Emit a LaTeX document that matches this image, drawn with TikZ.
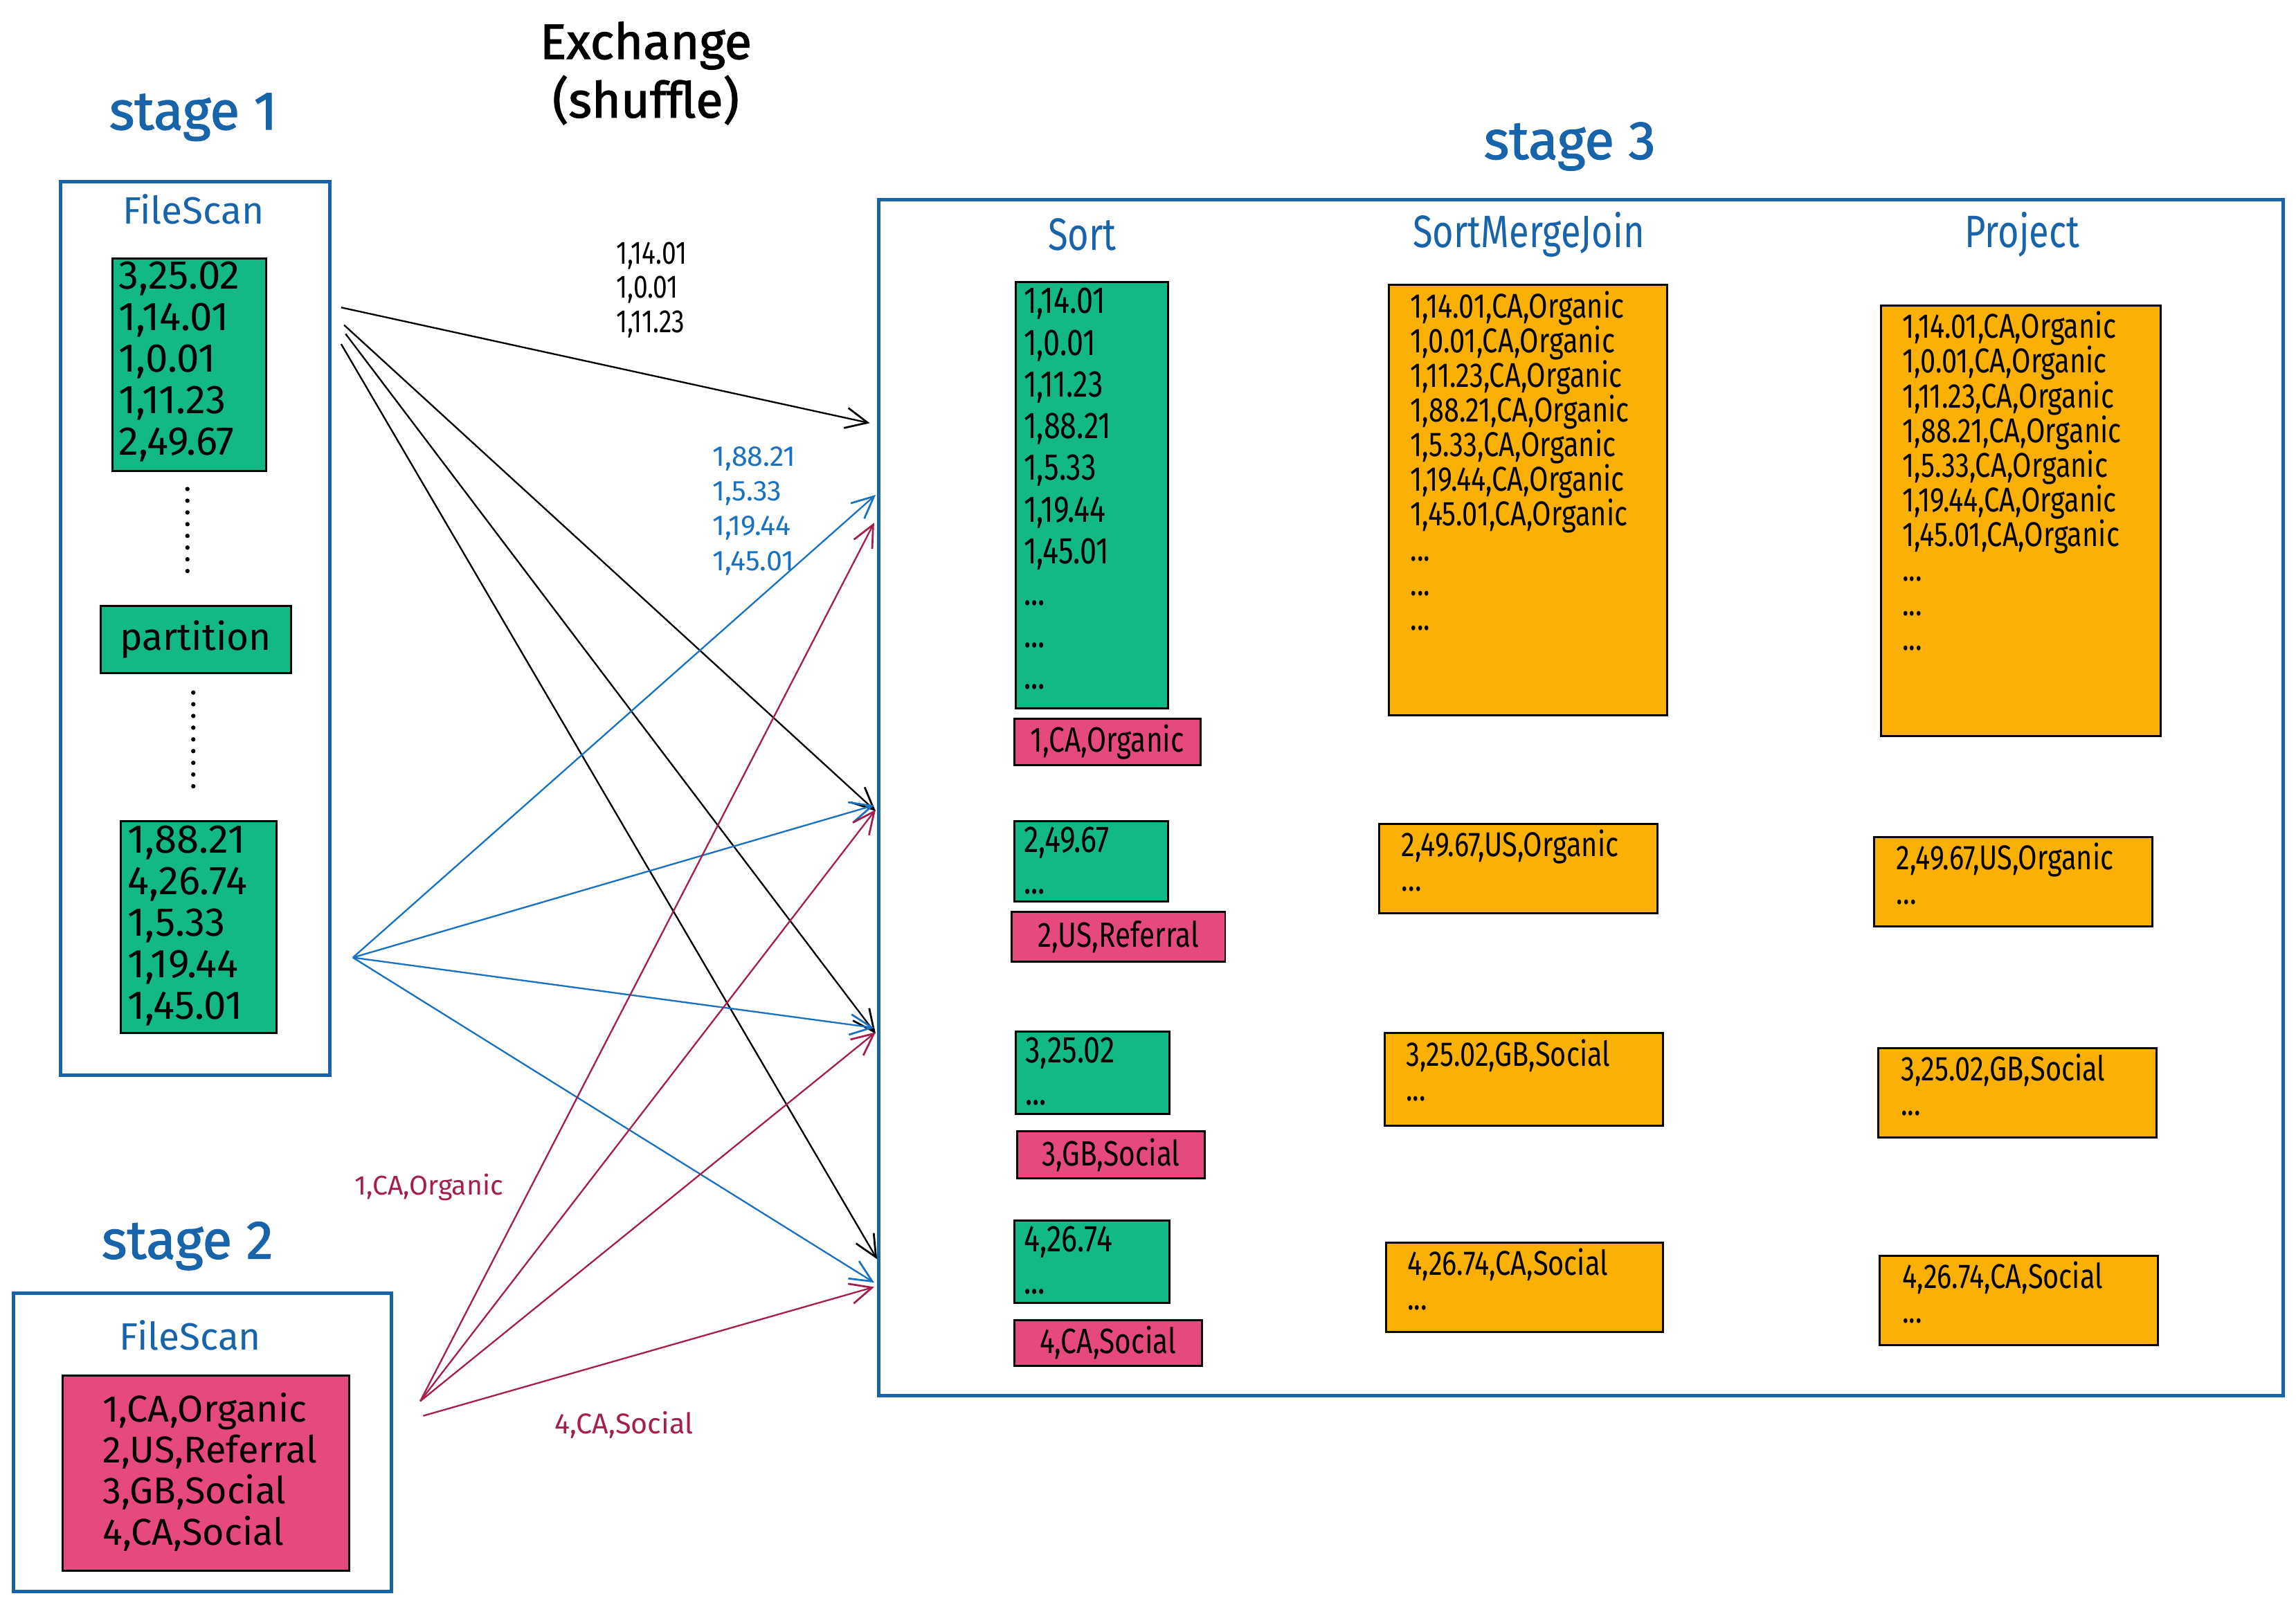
\documentclass[tikz,border=0pt]{standalone}
\usepackage{fontspec}
\setmainfont{Fira Sans}
\newfontfamily\condfont[FakeStretch=0.8]{Fira Sans}
\newfontfamily\titlefont[FakeBold=1.6]{Fira Sans}
\usetikzlibrary{arrows.meta}
\definecolor{exblue}{HTML}{1864AB}
\definecolor{exline}{HTML}{1971C2}
\definecolor{excrimson}{HTML}{A61E4D}
\definecolor{exgreen}{HTML}{12B886}
\definecolor{expink}{HTML}{E64980}
\definecolor{exorange}{HTML}{FAB005}
\tikzset{
  stagebox/.style={draw=exblue, line width=2.4pt, anchor=north west, inner sep=0pt},
  gbox/.style={draw=black, line width=1.4pt, fill=exgreen, anchor=north west, inner sep=0pt},
  pbox/.style={draw=black, line width=1.4pt, fill=expink, anchor=north west, inner sep=0pt},
  obox/.style={draw=black, line width=1.4pt, fill=exorange, anchor=north west, inner sep=0pt},
  title/.style={text=exblue, font=\titlefont\fontsize{37}{40}\selectfont},
  head/.style={text=exblue, font=\fontsize{26}{30}\selectfont},
  colhead/.style={text=exblue, font=\condfont\fontsize{31}{34}\selectfont},
  txtA/.style={inner sep=0pt, anchor=north west, align=left, font=\fontsize{27.5}{28.4}\selectfont},
  txtP/.style={inner sep=0pt, anchor=north west, align=left, font=\fontsize{25.5}{28}\selectfont},
  txtS/.style={inner sep=0pt, anchor=north west, align=left, font=\condfont\fontsize{25.5}{28.5}\selectfont},
  txtO/.style={inner sep=0pt, anchor=north west, align=left, font=\condfont\fontsize{23.5}{23.7}\selectfont},
  dotline/.style={line width=3pt, line cap=round, dash pattern=on 0pt off 8pt},
  arr/.style={line width=1.1pt, -{Straight Barb[length=15pt,width=14pt,line width=1.3pt]}},
}
\begin{document}
\begin{tikzpicture}[x=1pt,y=-1pt]
\useasboundingbox (0,0) rectangle (1568,1096);

% ---------- titles ----------
\node[font=\titlefont\fontsize{34}{40}\selectfont, align=center] (exch) at (441,50) {Exchange\\(shuffle)};
\node[title] (st1) at (132,80) {stage 1};
\node[title] (st2) at (128,851) {stage 2};
\node[title] (st3) at (1072,100) {stage 3};

% ---------- stage 1 ----------
\node[stagebox, minimum width=184pt, minimum height=610pt] (stage1) at (40,123) {};
\node[head] (fs1) at (132,143) {FileScan};
\node[gbox, minimum width=105pt, minimum height=145pt] (g1) at (76,176) {};
\node[txtA] (g1t) at (81,178.5) {3,25.02\\1,14.01\\1,0.01\\1,11.23\\2,49.67};
\coordinate (d1a) at (128,334);
\coordinate (d1b) at (128,396);
\draw[dotline] (d1a) -- (d1b);
\node[gbox, minimum width=130pt, minimum height=46pt, font=\fontsize{26}{30}\selectfont] (part) at (68,413) {partition};
\coordinate (d2a) at (132,473);
\coordinate (d2b) at (132,540);
\draw[dotline] (d2a) -- (d2b);
\node[gbox, minimum width=106pt, minimum height=145pt] (g2) at (82,560) {};
\node[txtA] (g2t) at (87,563.5) {1,88.21\\4,26.74\\1,5.33\\1,19.44\\1,45.01};

% ---------- stage 2 ----------
\node[stagebox, minimum width=258pt, minimum height=204pt] (stage2) at (8,882) {};
\node[head] (fs2) at (130,912) {FileScan};
\node[pbox, minimum width=196pt, minimum height=133pt] (p0) at (42,939) {};
\node[txtP] (p0t) at (70,951) {1,CA,Organic\\2,US,Referral\\3,GB,Social\\4,CA,Social};

% ---------- stage 3 ----------
\node[stagebox, minimum width=959pt, minimum height=817pt] (stage3) at (599,135) {};
\node[colhead] (hsort) at (739,160) {Sort};
\node[colhead] (hsmj) at (1044,160) {SortMergeJoin};
\node[colhead] (hproj) at (1381,160) {Project};

% Sort column
\node[gbox, minimum width=104pt, minimum height=291pt] (s1) at (693,192) {};
\node[txtS] (s1t) at (699,196.5) {1,14.01\\1,0.01\\1,11.23\\1,88.21\\1,5.33\\1,19.44\\1,45.01\\...\\...\\...};
\node[pbox, minimum width=127pt, minimum height=32pt, font=\condfont\fontsize{24}{28}\selectfont] (sp1) at (692,490) {1,CA,Organic};

\node[gbox, minimum width=105pt, minimum height=55pt] (s2) at (692,560) {};
\node[txtS] (s2t) at (699,564.5) {2,49.67\\...};
\node[pbox, minimum width=146pt, minimum height=34pt, font=\condfont\fontsize{24}{28}\selectfont] (sp2) at (690,622) {2,US,Referral};

\node[gbox, minimum width=105pt, minimum height=56pt] (s3) at (693,704) {};
\node[txtS] (s3t) at (700,708.5) {3,25.02\\...};
\node[pbox, minimum width=128pt, minimum height=32pt, font=\condfont\fontsize{24}{28}\selectfont] (sp3) at (694,772) {3,GB,Social};

\node[gbox, minimum width=106pt, minimum height=56pt] (s4) at (692,833) {};
\node[txtS] (s4t) at (699,837.5) {4,26.74\\...};
\node[pbox, minimum width=128pt, minimum height=31pt, font=\condfont\fontsize{24}{28}\selectfont] (sp4) at (692,901) {4,CA,Social};

% SortMergeJoin column
\node[obox, minimum width=190pt, minimum height=294pt] (m1) at (948,194) {};
\node[txtO] (m1t) at (963,198.5) {1,14.01,CA,Organic\\1,0.01,CA,Organic\\1,11.23,CA,Organic\\1,88.21,CA,Organic\\1,5.33,CA,Organic\\1,19.44,CA,Organic\\1,45.01,CA,Organic\\...\\...\\...};
\node[obox, minimum width=190pt, minimum height=61pt] (m2) at (941,562) {};
\node[txtO] (m2t) at (957,566.5) {2,49.67,US,Organic\\...};
\node[obox, minimum width=190pt, minimum height=63pt] (m3) at (945,705) {};
\node[txtO] (m3t) at (960,709.5) {3,25.02,GB,Social\\...};
\node[obox, minimum width=189pt, minimum height=61pt] (m4) at (946,848) {};
\node[txtO] (m4t) at (961,852.5) {4,26.74,CA,Social\\...};

% Project column
\node[obox, minimum width=191pt, minimum height=294pt] (q1) at (1284,208) {};
\node[txtO] (q1t) at (1299,212.5) {1,14.01,CA,Organic\\1,0.01,CA,Organic\\1,11.23,CA,Organic\\1,88.21,CA,Organic\\1,5.33,CA,Organic\\1,19.44,CA,Organic\\1,45.01,CA,Organic\\...\\...\\...};
\node[obox, minimum width=190pt, minimum height=61pt] (q2) at (1279,571) {};
\node[txtO] (q2t) at (1295,575.5) {2,49.67,US,Organic\\...};
\node[obox, minimum width=190pt, minimum height=61pt] (q3) at (1282,715) {};
\node[txtO] (q3t) at (1298,719.5) {3,25.02,GB,Social\\...};
\node[obox, minimum width=190pt, minimum height=61pt] (q4) at (1283,857) {};
\node[txtO] (q4t) at (1299,861.5) {4,26.74,CA,Social\\...};

% ---------- arrow labels ----------
\node[align=left, font=\condfont\fontsize{22}{23.5}\selectfont] (lblack) at (445,198) {1,14.01\\1,0.01\\1,11.23};
\node[align=left, text=exline, font=\fontsize{19.5}{23.7}\selectfont] (lblue) at (515,349) {1,88.21\\1,5.33\\1,19.44\\1,45.01};
\node[text=excrimson, font=\fontsize{18.5}{22}\selectfont] (lred1) at (293,811) {1,CA,Organic};
\node[text=excrimson, font=\fontsize{19.5}{22}\selectfont] (lred2) at (426,973) {4,CA,Social};

% ---------- arrow end points ----------
\coordinate (k1s) at (233,210);
\coordinate (k2s) at (235,222);
\coordinate (k3s) at (236,228);
\coordinate (k4s) at (233,235);
\coordinate (bs) at (241,654);
\coordinate (rs) at (287,957);
\coordinate (rs4) at (289,967);
\coordinate (k1e) at (594,289);
\coordinate (k2e) at (598,554);
\coordinate (k3e) at (598,706);
\coordinate (k4e) at (599,860);
\coordinate (b1e) at (598,338);
\coordinate (b2e) at (597,550);
\coordinate (b3e) at (597,702);
\coordinate (b4e) at (597,876);
\coordinate (r1e) at (597,357);
\coordinate (r2e) at (598,553);
\coordinate (r3e) at (598,705);
\coordinate (r4e) at (597,879);

% black arrows
\draw[arr, black] (k1s) -- (k1e);
\draw[arr, black] (k2s) -- (k2e);
\draw[arr, black] (k3s) -- (k3e);
\draw[arr, black] (k4s) -- (k4e);
% blue arrows
\draw[arr, exline] (bs) -- (b1e);
\draw[arr, exline] (bs) -- (b2e);
\draw[arr, exline] (bs) -- (b3e);
\draw[arr, exline] (bs) -- (b4e);
% crimson arrows
\draw[arr, excrimson] (rs) -- (r1e);
\draw[arr, excrimson] (rs) -- (r2e);
\draw[arr, excrimson] (rs) -- (r3e);
\draw[arr, excrimson] (rs4) -- (r4e);
\end{tikzpicture}
\end{document}
